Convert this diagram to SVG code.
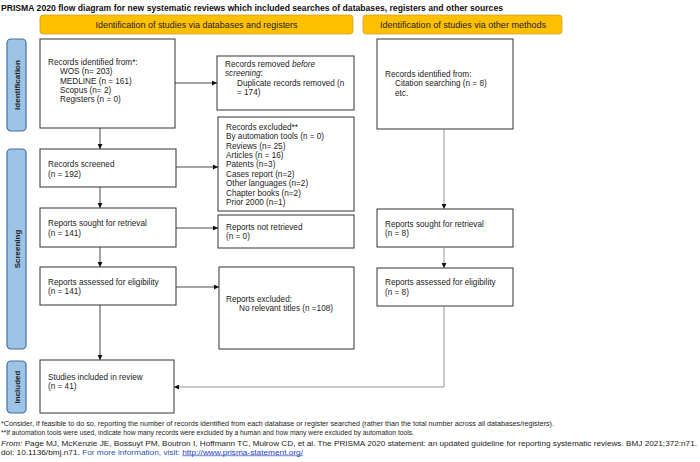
<svg xmlns="http://www.w3.org/2000/svg" width="700" height="462" viewBox="0 0 700 462">
<defs>
<marker id="arr" viewBox="0 0 10 10" refX="10" refY="5" markerWidth="5" markerHeight="5" orient="auto" markerUnits="userSpaceOnUse">
<path d="M0,0 L10,5 L0,10 z" fill="#111"/>
</marker>
<style>
text{font-family:"Liberation Sans",Arial,sans-serif;fill:#222}
.t{font-size:8.2px}
.box{fill:#fff;stroke:#333;stroke-width:1}
.hdr{fill:#FFC000;stroke:#C9A227;stroke-width:0.8}
.ht{font-size:9.5px;text-anchor:middle;fill:#222}
.side{fill:#9DC3E6;stroke:#41719C;stroke-width:1.2}
.st{font-size:8px;font-weight:bold;text-anchor:middle;fill:#222}
.c{fill:none;stroke:#333;stroke-width:0.9}
.cg{fill:none;stroke:#888;stroke-width:0.9}
.f{font-size:6.3px}
.title{font-size:9px;font-weight:bold;fill:#111}
</style>
</defs>
<rect width="700" height="462" fill="#fff"/>
<text class="title" x="1" y="11" textLength="502" lengthAdjust="spacingAndGlyphs">PRISMA 2020 flow diagram for new systematic reviews which included searches of databases, registers and other sources</text>

<g id="hdr-db"><rect class="hdr" x="40" y="15" width="313" height="19" rx="3"/><text class="ht" x="196.5" y="27.8" textLength="202" lengthAdjust="spacingAndGlyphs">Identification of studies via databases and registers</text></g>
<g id="hdr-other"><rect class="hdr" x="363" y="15" width="199" height="19" rx="3"/><text class="ht" x="463" y="27.8" textLength="166" lengthAdjust="spacingAndGlyphs">Identification of studies via other methods</text></g>

<g id="side-identification"><rect class="side" x="7" y="39" width="19" height="92" rx="4"/><text class="st" transform="translate(19.5,85) rotate(-90)">Identification</text></g>
<g id="side-screening"><rect class="side" x="7" y="149" width="19" height="200" rx="4"/><text class="st" transform="translate(19.5,249) rotate(-90)">Screening</text></g>
<g id="side-included"><rect class="side" x="7" y="361" width="19" height="52" rx="4"/><text class="st" transform="translate(19.5,387) rotate(-90)">Included</text></g>

<g id="records-identified"><rect class="box" x="40" y="39" width="135" height="89"/>
<text class="t" x="48" y="65">Records identified from*:</text>
<text class="t" x="60" y="74.3">WOS (n= 203)</text>
<text class="t" x="60" y="83.6">MEDLINE (n = 161)</text>
<text class="t" x="60" y="92.9">Scopus (n= 2)</text>
<text class="t" x="60" y="102.2">Registers (n = 0)</text>
</g>
<g id="records-removed"><rect class="box" x="217" y="56" width="137" height="54"/>
<text class="t" x="225" y="67">Records removed <tspan font-style="italic">before</tspan></text>
<text class="t" x="225" y="76.3"><tspan font-style="italic">screening</tspan>:</text>
<text class="t" x="237" y="85.6">Duplicate records removed (n</text>
<text class="t" x="237" y="94.9">= 174)</text>
</g>
<g id="records-screened"><rect class="box" x="40" y="149" width="136" height="38"/>
<text class="t" x="48" y="167">Records screened</text>
<text class="t" x="48" y="176.6">(n = 192)</text>
</g>
<g id="records-excluded"><rect class="box" x="218" y="117" width="136" height="94"/>
<text class="t" x="226" y="129.7">Records excluded**</text>
<text class="t" x="226" y="139.1">By automation tools (n = 0)</text>
<text class="t" x="226" y="148.5">Reviews (n= 25)</text>
<text class="t" x="226" y="157.9">Articles (n = 16)</text>
<text class="t" x="226" y="167.3">Patents (n=3)</text>
<text class="t" x="226" y="176.7">Cases report (n=2)</text>
<text class="t" x="226" y="186.1">Other languages (n=2)</text>
<text class="t" x="226" y="195.5">Chapter books (n=2)</text>
<text class="t" x="226" y="204.9">Prior 2000 (n=1)</text>
</g>
<g id="reports-sought"><rect class="box" x="40" y="208" width="136" height="39"/>
<text class="t" x="48" y="226.3">Reports sought for retrieval</text>
<text class="t" x="48" y="236">(n = 141)</text>
</g>
<g id="reports-not-retrieved"><rect class="box" x="218" y="215" width="136" height="33"/>
<text class="t" x="226" y="229.6">Reports not retrieved</text>
<text class="t" x="226" y="239.2">(n = 0)</text>
</g>
<g id="reports-assessed"><rect class="box" x="40" y="267" width="136" height="38"/>
<text class="t" x="48" y="284.7">Reports assessed for eligibility</text>
<text class="t" x="48" y="294">(n = 141)</text>
</g>
<g id="reports-excluded"><rect class="box" x="219" y="267" width="135" height="82"/>
<text class="t" x="226" y="301.7">Reports excluded:</text>
<text class="t" x="239" y="311.3">No relevant titles (n =108)</text>
</g>
<g id="studies-included"><rect class="box" x="40" y="360" width="134" height="53"/>
<text class="t" x="48" y="379.7">Studies included in review</text>
<text class="t" x="48" y="389">(n = 41)</text>
</g>

<g id="other-identified"><rect class="box" x="377" y="39" width="136" height="90"/>
<text class="t" x="385" y="77">Records identified from:</text>
<text class="t" x="395" y="86.3">Citation searching (n = 8)</text>
<text class="t" x="395" y="95.6">etc.</text>
</g>
<g id="other-sought"><rect class="box" x="377" y="209" width="136" height="38"/>
<text class="t" x="385" y="226.7">Reports sought for retrieval</text>
<text class="t" x="385" y="236.3">(n = 8)</text>
</g>
<g id="other-assessed"><rect class="box" x="377" y="268" width="136" height="38"/>
<text class="t" x="385" y="285.3">Reports assessed for eligibility</text>
<text class="t" x="385" y="295">(n = 8)</text>
</g>

<g id="connectors">
<path class="c" d="M175,83 H217" marker-end="url(#arr)"/>
<path class="c" d="M100,128 V149" marker-end="url(#arr)"/>
<path class="c" d="M176,167 H218" marker-end="url(#arr)"/>
<path class="c" d="M100,187 V208" marker-end="url(#arr)"/>
<path class="c" d="M176,228 H218" marker-end="url(#arr)"/>
<path class="c" d="M100,247 V267" marker-end="url(#arr)"/>
<path class="c" d="M176,287 H219" marker-end="url(#arr)"/>
<path class="c" d="M100,305 V360" marker-end="url(#arr)"/>
<path class="cg" d="M444,129 V209" marker-end="url(#arr)"/>
<path class="cg" d="M444,247 V268" marker-end="url(#arr)"/>
<path class="cg" d="M444,306 V387 H174" marker-end="url(#arr)"/>
</g>

<g id="footer">
<text class="f" x="1" y="426" textLength="553" lengthAdjust="spacingAndGlyphs">*Consider, if feasible to do so, reporting the number of records identified from each database or register searched (rather than the total number across all databases/registers).</text>
<text class="f" x="1" y="434.5" textLength="413" lengthAdjust="spacingAndGlyphs">**If automation tools were used, indicate how many records were excluded by a human and how many were excluded by automation tools.</text>
<text class="f" x="1" y="446" textLength="696" lengthAdjust="spacingAndGlyphs"><tspan font-style="italic">From:</tspan>  Page MJ, McKenzie JE, Bossuyt PM, Boutron I, Hoffmann TC, Mulrow CD, et al. The PRISMA 2020 statement: an updated guideline for reporting systematic reviews. BMJ 2021;372:n71.</text>
<text class="f" x="1" y="454.5" textLength="302" lengthAdjust="spacingAndGlyphs">doi: 10.1136/bmj.n71. <tspan fill="#3050A8">For more information, visit: </tspan><tspan fill="#1F3FBF" text-decoration="underline">http://www.prisma-statement.org/</tspan></text>
</g>
</svg>
